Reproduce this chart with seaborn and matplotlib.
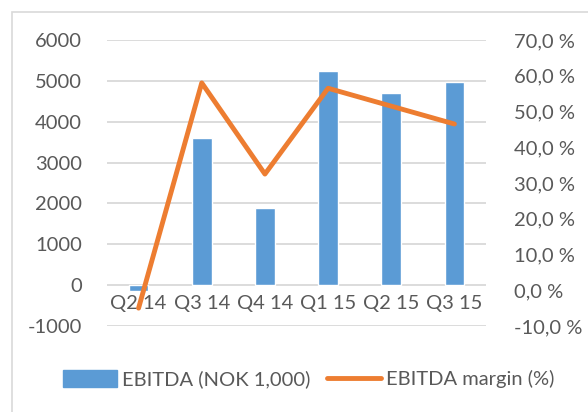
import matplotlib.pyplot as plt
import matplotlib.patches as mpatches
from matplotlib.lines import Line2D
from matplotlib.ticker import FuncFormatter
import pandas as pd
import seaborn as sns

quarters = ["Q2 14", "Q3 14", "Q4 14", "Q1 15", "Q2 15", "Q3 15"]
ebitda = [-150, 3610, 1880, 5240, 4710, 4980]
margin = [-5.0, 58.0, 32.5, 56.5, 51.5, 46.5]

left_ticks = [-1000, 0, 1000, 2000, 3000, 4000, 5000, 6000]
right_ticks = [-10, 0, 10, 20, 30, 40, 50, 60, 70]

BLUE = "#5B9BD5"
ORANGE = "#ED7D31"
TEXT = "#595959"
GRID = "#D9D9D9"
FS = 14.5

sns.set_style("white")
plt.rcParams["font.family"] = ["Lato", "DejaVu Sans"]
plt.rcParams["axes.unicode_minus"] = False

df = pd.DataFrame({"quarter": quarters, "ebitda": ebitda, "margin": margin})

fig = plt.figure(figsize=(5.88, 4.12), dpi=100)
fig.patches.append(mpatches.Rectangle((12 / 588, -0.1), 1.2, 1 - 12 / 412 + 0.1,
                                      transform=fig.transFigure, fill=False,
                                      edgecolor=GRID, linewidth=1.2))
ax = fig.add_axes([107 / 588, 1 - 326 / 412, 379 / 588, 286 / 412])

sns.barplot(data=df, x="quarter", y="ebitda", color=BLUE, width=0.31,
            saturation=1, ax=ax)
ax.set_xlim(-0.5, 5.5)
ax.set_ylim(-1000, 6000)
ax.set_yticks(left_ticks)
ax.yaxis.grid(True, color=GRID, linewidth=1.3)
ax.set_axisbelow(True)
for s in ax.spines.values():
    s.set_visible(False)
ax.spines["bottom"].set_position(("data", 0))
ax.set_xlabel("")
ax.set_ylabel("")
ax.tick_params(axis="both", length=0, labelsize=FS, labelcolor=TEXT)
ax.tick_params(axis="y", pad=18)
ax.tick_params(axis="x", pad=7)

ax2 = ax.twinx()
sns.lineplot(x=range(len(quarters)), y=margin, color=ORANGE, linewidth=3.5,
             ax=ax2)
ax2.set_ylim(-10, 70)
ax2.set_yticks(right_ticks)
ax2.yaxis.set_major_formatter(FuncFormatter(lambda v, _: f"{v:.1f} %".replace(".", ",")))
for s in ax2.spines.values():
    s.set_visible(False)
ax2.tick_params(axis="y", length=0, labelsize=FS, labelcolor=TEXT, pad=20)
ax2.set_ylabel("")

handles = [mpatches.Patch(color=BLUE, label="EBITDA (NOK 1,000)"),
           Line2D([0], [0], color=ORANGE, linewidth=3.5, label="EBITDA margin (%)")]
leg = fig.legend(handles=handles, loc="center", bbox_to_anchor=(0.525, 1 - 379 / 412),
                 ncol=2, frameon=False, fontsize=FS, handlelength=2.7,
                 handleheight=0.9, columnspacing=0.8, handletextpad=0.25)
for t in leg.get_texts():
    t.set_color(TEXT)

fig.savefig("out.png", dpi=100)
